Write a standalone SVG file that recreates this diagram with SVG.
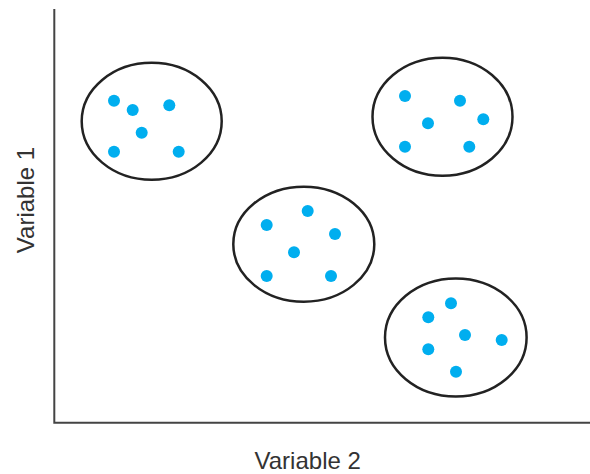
<svg xmlns="http://www.w3.org/2000/svg" width="590" height="474" viewBox="0 0 590 474">
<style>
.cl{fill:#fff;stroke:#222;stroke-width:2.5}
.pt{fill:#00aeef}
.ax{fill:none;stroke:#444;stroke-width:2}
.lb{font-family:"Liberation Sans",Arial,sans-serif;font-size:24px;fill:#333;text-anchor:middle}
</style>
<rect width="590" height="474" fill="#fff"/>
<g id="axes">
<path class="ax" d="M54.3,9 V422.7 H590"/>
</g>
<g id="cluster1">
<ellipse class="cl" cx="151.7" cy="121.3" rx="70" ry="58.5"/>
<circle class="pt" cx="114" cy="100.7" r="6"/>
<circle class="pt" cx="132.7" cy="110" r="6"/>
<circle class="pt" cx="169.3" cy="105.3" r="6"/>
<circle class="pt" cx="141.7" cy="132.7" r="6"/>
<circle class="pt" cx="114" cy="151.7" r="6"/>
<circle class="pt" cx="178.7" cy="151.7" r="6"/>
</g>
<g id="cluster2">
<ellipse class="cl" cx="442.5" cy="116.7" rx="70" ry="59"/>
<circle class="pt" cx="405" cy="96" r="6"/>
<circle class="pt" cx="460" cy="100.7" r="6"/>
<circle class="pt" cx="483.3" cy="119.3" r="6"/>
<circle class="pt" cx="428" cy="123.3" r="6"/>
<circle class="pt" cx="405" cy="146.7" r="6"/>
<circle class="pt" cx="469.3" cy="146.7" r="6"/>
</g>
<g id="cluster3">
<ellipse class="cl" cx="303.8" cy="244.2" rx="70.5" ry="57.5"/>
<circle class="pt" cx="307.7" cy="211" r="6"/>
<circle class="pt" cx="266.7" cy="225" r="6"/>
<circle class="pt" cx="335" cy="234" r="6"/>
<circle class="pt" cx="294" cy="252.3" r="6"/>
<circle class="pt" cx="266.7" cy="276" r="6"/>
<circle class="pt" cx="331" cy="276" r="6"/>
</g>
<g id="cluster4">
<ellipse class="cl" cx="455.8" cy="337.5" rx="70.8" ry="59"/>
<circle class="pt" cx="451" cy="303.3" r="6"/>
<circle class="pt" cx="428.3" cy="317.3" r="6"/>
<circle class="pt" cx="465" cy="335" r="6"/>
<circle class="pt" cx="501.7" cy="340" r="6"/>
<circle class="pt" cx="428.3" cy="349.3" r="6"/>
<circle class="pt" cx="456" cy="371.7" r="6"/>
</g>
<g id="labels">
<text class="lb" x="307.7" y="468.5">Variable 2</text>
<text class="lb" transform="translate(33.5,200) rotate(-90)">Variable 1</text>
</g>
</svg>
